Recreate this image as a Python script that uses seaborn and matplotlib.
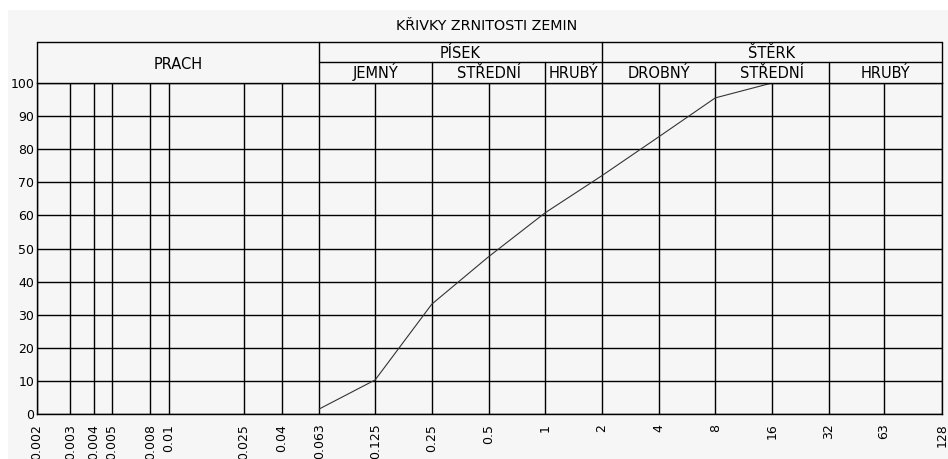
import numpy as np
import pandas as pd
import matplotlib
matplotlib.use("Agg")
import matplotlib.pyplot as plt
from matplotlib.patches import Rectangle
import seaborn as sns

# grain size [mm] and cumulative passing [%]
grain_size = [0.063, 0.125, 0.25, 0.5, 1, 2, 4, 8, 16]
passing = [1.5, 10.3, 33.2, 47.5, 60.8, 72.0, 83.7, 95.5, 100]

tick_vals = [0.002, 0.003, 0.004, 0.005, 0.008, 0.01, 0.025, 0.04, 0.063, 0.125,
             0.25, 0.5, 1, 2, 4, 8, 16, 32, 63, 128]
tick_labels = ['0.002', '0.003', '0.004', '0.005', '0.008', '0.01', '0.025', '0.04',
               '0.063', '0.125', '0.25', '0.5', '1', '2', '4', '8', '16', '32', '63', '128']

# header boxes
main_names = ['PRACH', 'PÍSEK', 'ŠTĚRK']
main_bounds = [(0.002, 0.063), (0.063, 2), (2, 128)]
sub_names = ['JEMNÝ', 'STŘEDNÍ', 'HRUBÝ', 'DROBNÝ', 'STŘEDNÍ', 'HRUBÝ']
sub_bounds = [(0.063, 0.25), (0.25, 1), (1, 2), (2, 8), (8, 32), (32, 128)]

df = pd.DataFrame({'size': grain_size, 'passing': passing})

sns.set_style("white")
plt.rcParams['font.family'] = ['DejaVu Sans']
plt.rcParams['text.color'] = 'black'

bg = '#f6f6f6'
fig = plt.figure(figsize=(9.48, 4.59), dpi=100, facecolor='white')
fig.patches.append(Rectangle((8 / 948, 0), 1, 1 - 10 / 459, transform=fig.transFigure,
                             facecolor=bg, edgecolor='none', zorder=-10))
ax = fig.add_axes([37 / 948, 1 - 414 / 459, 905 / 948, 331 / 459])
ax.set_facecolor(bg)

sns.lineplot(data=df, x='size', y='passing', color='#333333', linewidth=0.8, ax=ax)

ax.set_xscale('log')
ax.set_xlim(0.002, 128)
ax.set_ylim(0, 100)
ax.minorticks_off()
ax.set_xticks(tick_vals)
ax.set_xticklabels(tick_labels, rotation=90, va='top', ha='center', fontsize=9)
ax.set_yticks(range(0, 101, 10))
ax.set_yticklabels([str(v) for v in range(0, 101, 10)], fontsize=9)
ax.tick_params(axis='both', length=0, colors='black', labelcolor='black')
ax.tick_params(axis='x', pad=7)
ax.tick_params(axis='y', pad=2)
ax.set_xlabel('')
ax.set_ylabel('')

for v in tick_vals:
    ax.axvline(v, color='black', linewidth=1.0, zorder=1)
for v in range(0, 101, 10):
    ax.axhline(v, color='black', linewidth=1.0, zorder=1)
for s in ax.spines.values():
    s.set_color('black')
    s.set_linewidth(1.0)

# header table above the plot
tr = ax.get_xaxis_transform()
y_top, y_mid = 1.124, 1.063
ax.plot([0.002, 128], [y_top, y_top], color='black', lw=1.0, transform=tr, clip_on=False)
ax.plot([0.063, 128], [y_mid, y_mid], color='black', lw=1.0, transform=tr, clip_on=False)
for v in [0.002, 0.063, 2, 128]:
    ax.plot([v, v], [1, y_top], color='black', lw=1.0, transform=tr, clip_on=False)
for v in [0.25, 1, 8, 32]:
    ax.plot([v, v], [1, y_mid], color='black', lw=1.0, transform=tr, clip_on=False)

for name, (a, b) in zip(main_names, main_bounds):
    yy = 1.043 if name == 'PRACH' else 1.076
    ax.text(np.sqrt(a * b), yy, name, transform=tr, ha='center', va='baseline',
            fontsize=10.5, color='black')
for name, (a, b) in zip(sub_names, sub_bounds):
    ax.text(np.sqrt(a * b), 1.015, name, transform=tr, ha='center', va='baseline',
            fontsize=10.5, color='black')

ax.text(0.497, 1.160, 'KŘIVKY ZRNITOSTI ZEMIN', transform=ax.transAxes,
        ha='center', va='baseline', fontsize=10.3, color='black')

fig.savefig('out.png', dpi=100, facecolor=fig.get_facecolor())
